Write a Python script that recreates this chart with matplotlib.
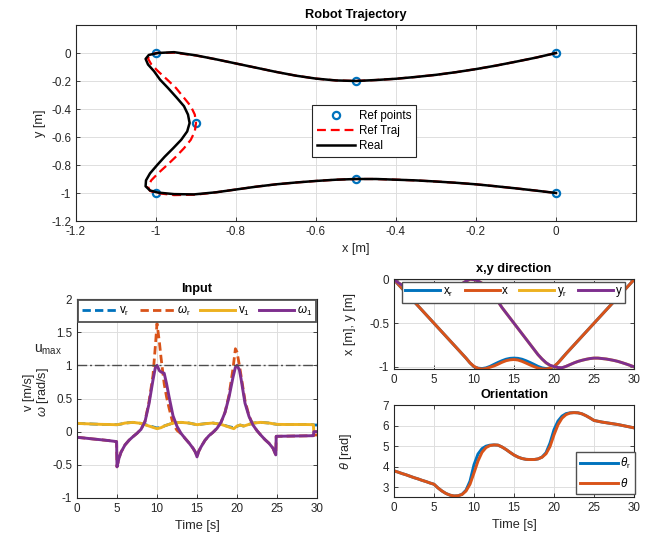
import numpy as np
import matplotlib
matplotlib.use('Agg')
import matplotlib.pyplot as plt
from matplotlib.ticker import FuncFormatter

plt.rcParams['font.family'] = ['Liberation Sans', 'DejaVu Sans']
plt.rcParams['mathtext.fontset'] = 'custom'
plt.rcParams['mathtext.rm'] = 'Liberation Sans'
plt.rcParams['mathtext.it'] = 'Liberation Sans:italic'

# ---- waypoints ----
ref_px = [0, -0.5, -1, -0.9, -1, -0.5, 0]
ref_py = [0, -0.2, 0, -0.5, -1, -0.9, -1]

# ---- trajectory time series (0.5 s samples) ----
t_traj = [0, 0.5, 1, 1.5, 2, 2.5, 3, 3.5, 4, 4.5, 5, 5.5, 6, 6.5, 7, 7.5, 8, 8.5, 9, 9.5,
          10, 10.5, 11, 11.5, 12, 12.5, 13, 13.5, 14, 14.5, 15, 15.5, 16, 16.5, 17, 17.5, 18, 18.5, 19, 19.5,
          20, 20.5, 21, 21.5, 22, 22.5, 23, 23.5, 24, 24.5, 25, 25.5, 26, 26.5, 27, 27.5, 28, 28.5, 29, 29.5, 30]
x_ref = [0, -0.05, -0.10, -0.15, -0.20, -0.25, -0.30, -0.35, -0.40, -0.45, -0.50, -0.55, -0.60, -0.65, -0.70, -0.75, -0.80, -0.85, -0.90, -0.955,
         -1.0, -1.015, -1.02, -1.012, -0.995, -0.972, -0.95, -0.93, -0.913, -0.903, -0.90, -0.903, -0.913, -0.93, -0.95, -0.972, -0.995, -1.012, -1.02, -1.015,
         -1.0, -0.955, -0.90, -0.85, -0.80, -0.75, -0.70, -0.65, -0.60, -0.55, -0.50, -0.45, -0.40, -0.35, -0.30, -0.25, -0.20, -0.15, -0.10, -0.05, 0]
y_ref = [0, -0.033, -0.062, -0.09, -0.115, -0.137, -0.156, -0.171, -0.184, -0.193, -0.2, -0.196, -0.183, -0.162, -0.135, -0.105, -0.075, -0.045, -0.018, 0.002,
         0.0, -0.015, -0.04, -0.08, -0.13, -0.19, -0.25, -0.32, -0.38, -0.44, -0.5, -0.56, -0.62, -0.68, -0.74, -0.80, -0.86, -0.91, -0.955, -0.985,
         -1.0, -1.015, -1.012, -0.995, -0.975, -0.955, -0.938, -0.925, -0.914, -0.905, -0.9, -0.9, -0.905, -0.91, -0.918, -0.927, -0.938, -0.952, -0.967, -0.983, -1.0]
x_real = [0, -0.05, -0.10, -0.15, -0.20, -0.25, -0.30, -0.35, -0.40, -0.45, -0.50, -0.55, -0.60, -0.65, -0.70, -0.75, -0.80, -0.85, -0.90, -0.955,
          -0.995, -1.018, -1.026, -1.02, -1.005, -0.99, -0.97, -0.948, -0.93, -0.92, -0.916, -0.922, -0.937, -0.957, -0.978, -0.997, -1.015, -1.025, -1.026, -1.015,
          -0.995, -0.955, -0.905, -0.85, -0.80, -0.75, -0.70, -0.65, -0.60, -0.55, -0.50, -0.45, -0.40, -0.35, -0.30, -0.25, -0.20, -0.15, -0.10, -0.05, 0]
y_real = [0, -0.033, -0.062, -0.09, -0.115, -0.137, -0.156, -0.171, -0.184, -0.193, -0.2, -0.196, -0.183, -0.162, -0.135, -0.105, -0.075, -0.045, -0.017, 0.006,
          0.0, -0.014, -0.042, -0.082, -0.13, -0.19, -0.25, -0.32, -0.38, -0.44, -0.5, -0.56, -0.62, -0.68, -0.74, -0.80, -0.86, -0.91, -0.952, -0.982,
          -0.997, -1.008, -1.01, -0.995, -0.975, -0.955, -0.938, -0.925, -0.914, -0.905, -0.9, -0.9, -0.905, -0.91, -0.918, -0.927, -0.938, -0.952, -0.967, -0.983, -1.0]
th_ref = [3.80, 3.74, 3.67, 3.61, 3.54, 3.47, 3.41, 3.34, 3.28, 3.21, 3.15, 2.97, 2.82, 2.70, 2.62, 2.58, 2.59, 2.66, 2.86, 3.30,
          4.10, 4.62, 4.88, 5.00, 5.05, 5.06, 5.05, 4.96, 4.84, 4.70, 4.57, 4.47, 4.40, 4.36, 4.35, 4.35, 4.38, 4.47, 4.68, 5.15,
          5.80, 6.22, 6.46, 6.58, 6.62, 6.63, 6.62, 6.57, 6.48, 6.37, 6.25, 6.21, 6.17, 6.14, 6.11, 6.08, 6.05, 6.01, 5.97, 5.93, 5.89]
th_real = [3.80, 3.74, 3.67, 3.61, 3.54, 3.47, 3.41, 3.34, 3.28, 3.21, 3.15, 2.97, 2.82, 2.70, 2.62, 2.58, 2.59, 2.65, 2.82, 3.15,
           3.70, 4.28, 4.70, 4.93, 5.03, 5.06, 5.05, 4.96, 4.84, 4.70, 4.57, 4.47, 4.40, 4.36, 4.35, 4.35, 4.38, 4.46, 4.63, 4.98,
           5.55, 6.04, 6.36, 6.53, 6.61, 6.63, 6.62, 6.57, 6.48, 6.37, 6.25, 6.21, 6.17, 6.14, 6.11, 6.08, 6.05, 6.01, 5.97, 5.93, 5.89]

# ---- inputs ----
t_w = [0, 1, 2, 3, 4, 4.95, 5.0, 5.25, 5.5, 6, 6.5, 7, 7.5, 8, 8.5, 9, 9.5, 9.8, 10, 10.3, 10.5, 10.9, 11.2, 11.5, 12, 12.5,
       13, 13.5, 14, 14.5, 14.8, 15, 15.2, 15.5, 16, 16.5, 17, 17.5, 18, 18.5, 19, 19.5, 19.8, 20, 20.3, 20.5, 21, 21.5, 22, 22.5,
       23, 23.5, 24, 24.5, 24.85, 24.9, 26, 27, 28, 29, 29.55, 29.6, 30]
w_1 = [-0.085, -0.097, -0.11, -0.122, -0.135, -0.15, -0.53, -0.40, -0.31, -0.20, -0.13, -0.075, -0.025, 0.035, 0.15, 0.42, 0.78, 0.97, 1.0, 0.92, 0.90, 0.88, 0.72, 0.53, 0.24, 0.08,
       -0.025, -0.10, -0.17, -0.25, -0.31, -0.38, -0.30, -0.23, -0.13, -0.06, -0.01, 0.05, 0.14, 0.29, 0.52, 0.82, 0.97, 1.0, 0.93, 0.80, 0.43, 0.23, 0.10, 0.015,
       -0.055, -0.12, -0.175, -0.25, -0.35, -0.07, -0.068, -0.066, -0.064, -0.062, -0.06, 0.0, 0.0]
w_r = [-0.085, -0.097, -0.11, -0.122, -0.135, -0.15, -0.53, -0.40, -0.31, -0.20, -0.13, -0.075, -0.025, 0.035, 0.16, 0.45, 0.85, 1.30, 1.63, 1.35, 1.12, 0.72, 0.52, 0.36, 0.12, 0.02,
       -0.03, -0.10, -0.17, -0.25, -0.31, -0.38, -0.30, -0.23, -0.13, -0.06, -0.01, 0.05, 0.14, 0.29, 0.55, 0.95, 1.25, 1.20, 1.00, 0.85, 0.47, 0.24, 0.10, 0.015,
       -0.055, -0.12, -0.175, -0.25, -0.35, -0.07, -0.068, -0.066, -0.064, -0.062, -0.06, -0.05, -0.05]
t_v = [0, 1, 2, 3, 4, 5, 5.5, 6, 7, 8, 9, 10, 10.5, 11, 12, 13, 14, 15, 16, 17, 18, 19, 19.6, 20, 20.4, 20.8, 21,
       22, 23, 24, 25, 26, 27, 28, 29, 29.55, 29.6, 30]
v_1 = [0.125, 0.12, 0.115, 0.11, 0.108, 0.105, 0.115, 0.13, 0.14, 0.125, 0.085, 0.045, 0.06, 0.09, 0.13, 0.14, 0.13, 0.105, 0.12, 0.13, 0.11, 0.07, 0.045, 0.085, 0.10, 0.085, 0.09,
       0.13, 0.14, 0.13, 0.11, 0.108, 0.108, 0.108, 0.107, 0.105, 0.0, 0.0]
v_r = [0.125, 0.12, 0.115, 0.11, 0.108, 0.105, 0.115, 0.13, 0.14, 0.125, 0.09, 0.055, 0.065, 0.09, 0.13, 0.14, 0.13, 0.105, 0.12, 0.13, 0.11, 0.075, 0.06, 0.08, 0.10, 0.085, 0.09,
       0.13, 0.14, 0.13, 0.11, 0.108, 0.108, 0.108, 0.107, 0.105, 0.10, 0.10]
u_max = 1.0

C_BLUE, C_ORANGE, C_YELLOW, C_PURPLE = '#0072BD', '#D95319', '#EDB120', '#7E2F8E'
AX_COL = '#262626'
FS_TICK, FS_LAB = 8.4, 9.2
W, H = 664, 540


def fmt(v, p):
    return '%g' % (round(v, 6) + 0.0)


def style(ax):
    for s in ax.spines.values():
        s.set_color(AX_COL); s.set_linewidth(0.8)
    ax.tick_params(direction='in', length=3, width=0.6, colors=AX_COL, labelsize=FS_TICK,
                   top=True, right=True)
    ax.grid(True, color='#dedede', linewidth=0.7)
    ax.set_axisbelow(True)
    ax.xaxis.set_major_formatter(FuncFormatter(fmt))
    ax.yaxis.set_major_formatter(FuncFormatter(fmt))


def leg_frame(lg, lw=0.8, ec=AX_COL):
    fr = lg.get_frame()
    fr.set_edgecolor(ec); fr.set_linewidth(lw); fr.set_boxstyle('square', pad=0)
    fr.set_facecolor('white'); fr.set_alpha(1)


fig = plt.figure(figsize=(W/100, H/100), dpi=100)

# ---------------- Robot trajectory ----------------
ax = fig.add_axes([76/W, 1-221/H, 560/W, 196/H])
style(ax)
ax.plot(ref_px, ref_py, 'o', ls='none', mfc='none', mec=C_BLUE, ms=5.2, mew=1.6, label='Ref points')
ax.plot(x_ref, y_ref, color='#FF0000', lw=1.6, dashes=(4, 2.2), label='Ref Traj')
ax.plot(x_real, y_real, color='k', lw=1.8, label='Real')
ax.set_xlim(-1.2, 0.2); ax.set_ylim(-1.2, 0.2)
ax.set_xticks(np.arange(-1.2, 0.01, 0.2)); ax.set_yticks(np.arange(-1.2, 0.01, 0.2))
ax.set_xlabel('x [m]', fontsize=FS_LAB, color=AX_COL)
ax.set_ylabel('y [m]', fontsize=FS_LAB, color=AX_COL)
ax.set_title('Robot Trajectory', fontsize=FS_LAB, fontweight='bold', pad=5)
lg = ax.legend(loc='center', bbox_to_anchor=(0.514, 0.459), fontsize=FS_TICK, handlelength=3.3,
               handletextpad=0.3, labelspacing=0.25, borderpad=0.4, fancybox=False)
leg_frame(lg)

# ---------------- Input ----------------
ax = fig.add_axes([77/W, 1-498/H, 240/W, 199/H])
style(ax)
ax.plot(t_v, v_r, color=C_BLUE, lw=2.0, dashes=(3, 1.5), label=r'$\mathrm{v}_\mathrm{r}$')
ax.plot(t_w, w_r, color=C_ORANGE, lw=2.0, dashes=(3, 1.5), label=r'$\omega_\mathrm{r}$')
ax.plot(t_v, v_1, color=C_YELLOW, lw=2.1, label=r'$\mathrm{v}_\mathrm{1}$')
ax.plot(t_w, w_1, color=C_PURPLE, lw=2.1, label=r'$\omega_\mathrm{1}$')
ax.axhline(u_max, color='#4d4d4d', lw=1.0, dashes=(7, 2, 1.5, 2))
ax.text(-0.06, 1.24, r'$\mathrm{u}_\mathrm{max}$', transform=ax.get_yaxis_transform(), ha='right', va='center',
        fontsize=10, color=AX_COL)
ax.set_xlim(0, 30); ax.set_ylim(-1, 2)
ax.set_xticks(range(0, 31, 5)); ax.set_yticks(np.arange(-1, 2.01, 0.5))
ax.set_xlabel('Time [s]', fontsize=FS_LAB, color=AX_COL)
fig.text(29/W, 1-392/H, 'v [m/s]', rotation=90, ha='center', va='center', fontsize=FS_LAB, color=AX_COL)
fig.text(43/W, 1-392/H, r'$\omega$ [rad/s]', rotation=90, ha='center', va='center', fontsize=FS_LAB, color=AX_COL)
ax.set_title('Input', fontsize=FS_LAB, fontweight='bold', pad=5)
lg = ax.legend(loc='upper left', bbox_to_anchor=(0.004, 0.995, 0.992, 0), mode='expand', ncol=4,
               fontsize=FS_TICK, handlelength=3.0, handletextpad=0.2, columnspacing=0.4,
               borderpad=0.35, borderaxespad=0, fancybox=False)
leg_frame(lg, lw=1.3, ec='#505050')

# ---------------- x,y direction ----------------
ax = fig.add_axes([394/W, 1-369/H, 240/W, 90/H])
style(ax)
ax.plot(t_traj, x_ref, color=C_BLUE, lw=2.1, label=r'$\mathrm{x}_\mathrm{r}$')
ax.plot(t_traj, x_real, color=C_ORANGE, lw=2.1, label='x')
ax.plot(t_traj, y_ref, color=C_YELLOW, lw=2.1, label=r'$\mathrm{y}_\mathrm{r}$')
ax.plot(t_traj, y_real, color=C_PURPLE, lw=2.1, label='y')
ax.set_xlim(0, 30); ax.set_ylim(-1.025, 0.008)
ax.set_xticks(range(0, 31, 5)); ax.set_yticks([-1, -0.5, 0])
ax.set_ylabel('x [m], y [m]', fontsize=FS_LAB, color=AX_COL)
ax.yaxis.set_label_coords(-0.16, 0.5)
ax.set_title('x,y direction', fontsize=FS_LAB, fontweight='bold', pad=5)
lg = ax.legend(loc='upper left', bbox_to_anchor=(0.033, 0.967, 0.93, 0), mode='expand', ncol=4,
               fontsize=FS_TICK, handlelength=3.0, handletextpad=0.2, columnspacing=0.4,
               borderpad=0.3, borderaxespad=0, fancybox=False)
leg_frame(lg, lw=1.0, ec='#505050')

# ---------------- Orientation ----------------
ax = fig.add_axes([394/W, 1-497/H, 240/W, 92/H])
style(ax)
ax.plot(t_traj, th_ref, color=C_BLUE, lw=2.1, label=r'$\theta_\mathrm{r}$')
ax.plot(t_traj, th_real, color=C_ORANGE, lw=2.1, label=r'$\theta$')
ax.set_xlim(0, 30); ax.set_ylim(2.53, 7.0)
ax.set_xticks(range(0, 31, 5)); ax.set_yticks(range(3, 8))
ax.set_xlabel('Time [s]', fontsize=FS_LAB, color=AX_COL)
ax.set_ylabel(r'$\theta$ [rad]', fontsize=FS_LAB, color=AX_COL)
ax.yaxis.set_label_coords(-0.165, 0.5)
ax.set_title('Orientation', fontsize=FS_LAB, fontweight='bold', pad=5)
lg = ax.legend(loc='lower right', bbox_to_anchor=(1.004, 0.033), fontsize=FS_TICK, handlelength=3.2,
               handletextpad=0.2, labelspacing=0.5, borderpad=0.35, borderaxespad=0, fancybox=False)
leg_frame(lg, lw=1.0, ec='#505050')

fig.savefig('out.png', dpi=100)
